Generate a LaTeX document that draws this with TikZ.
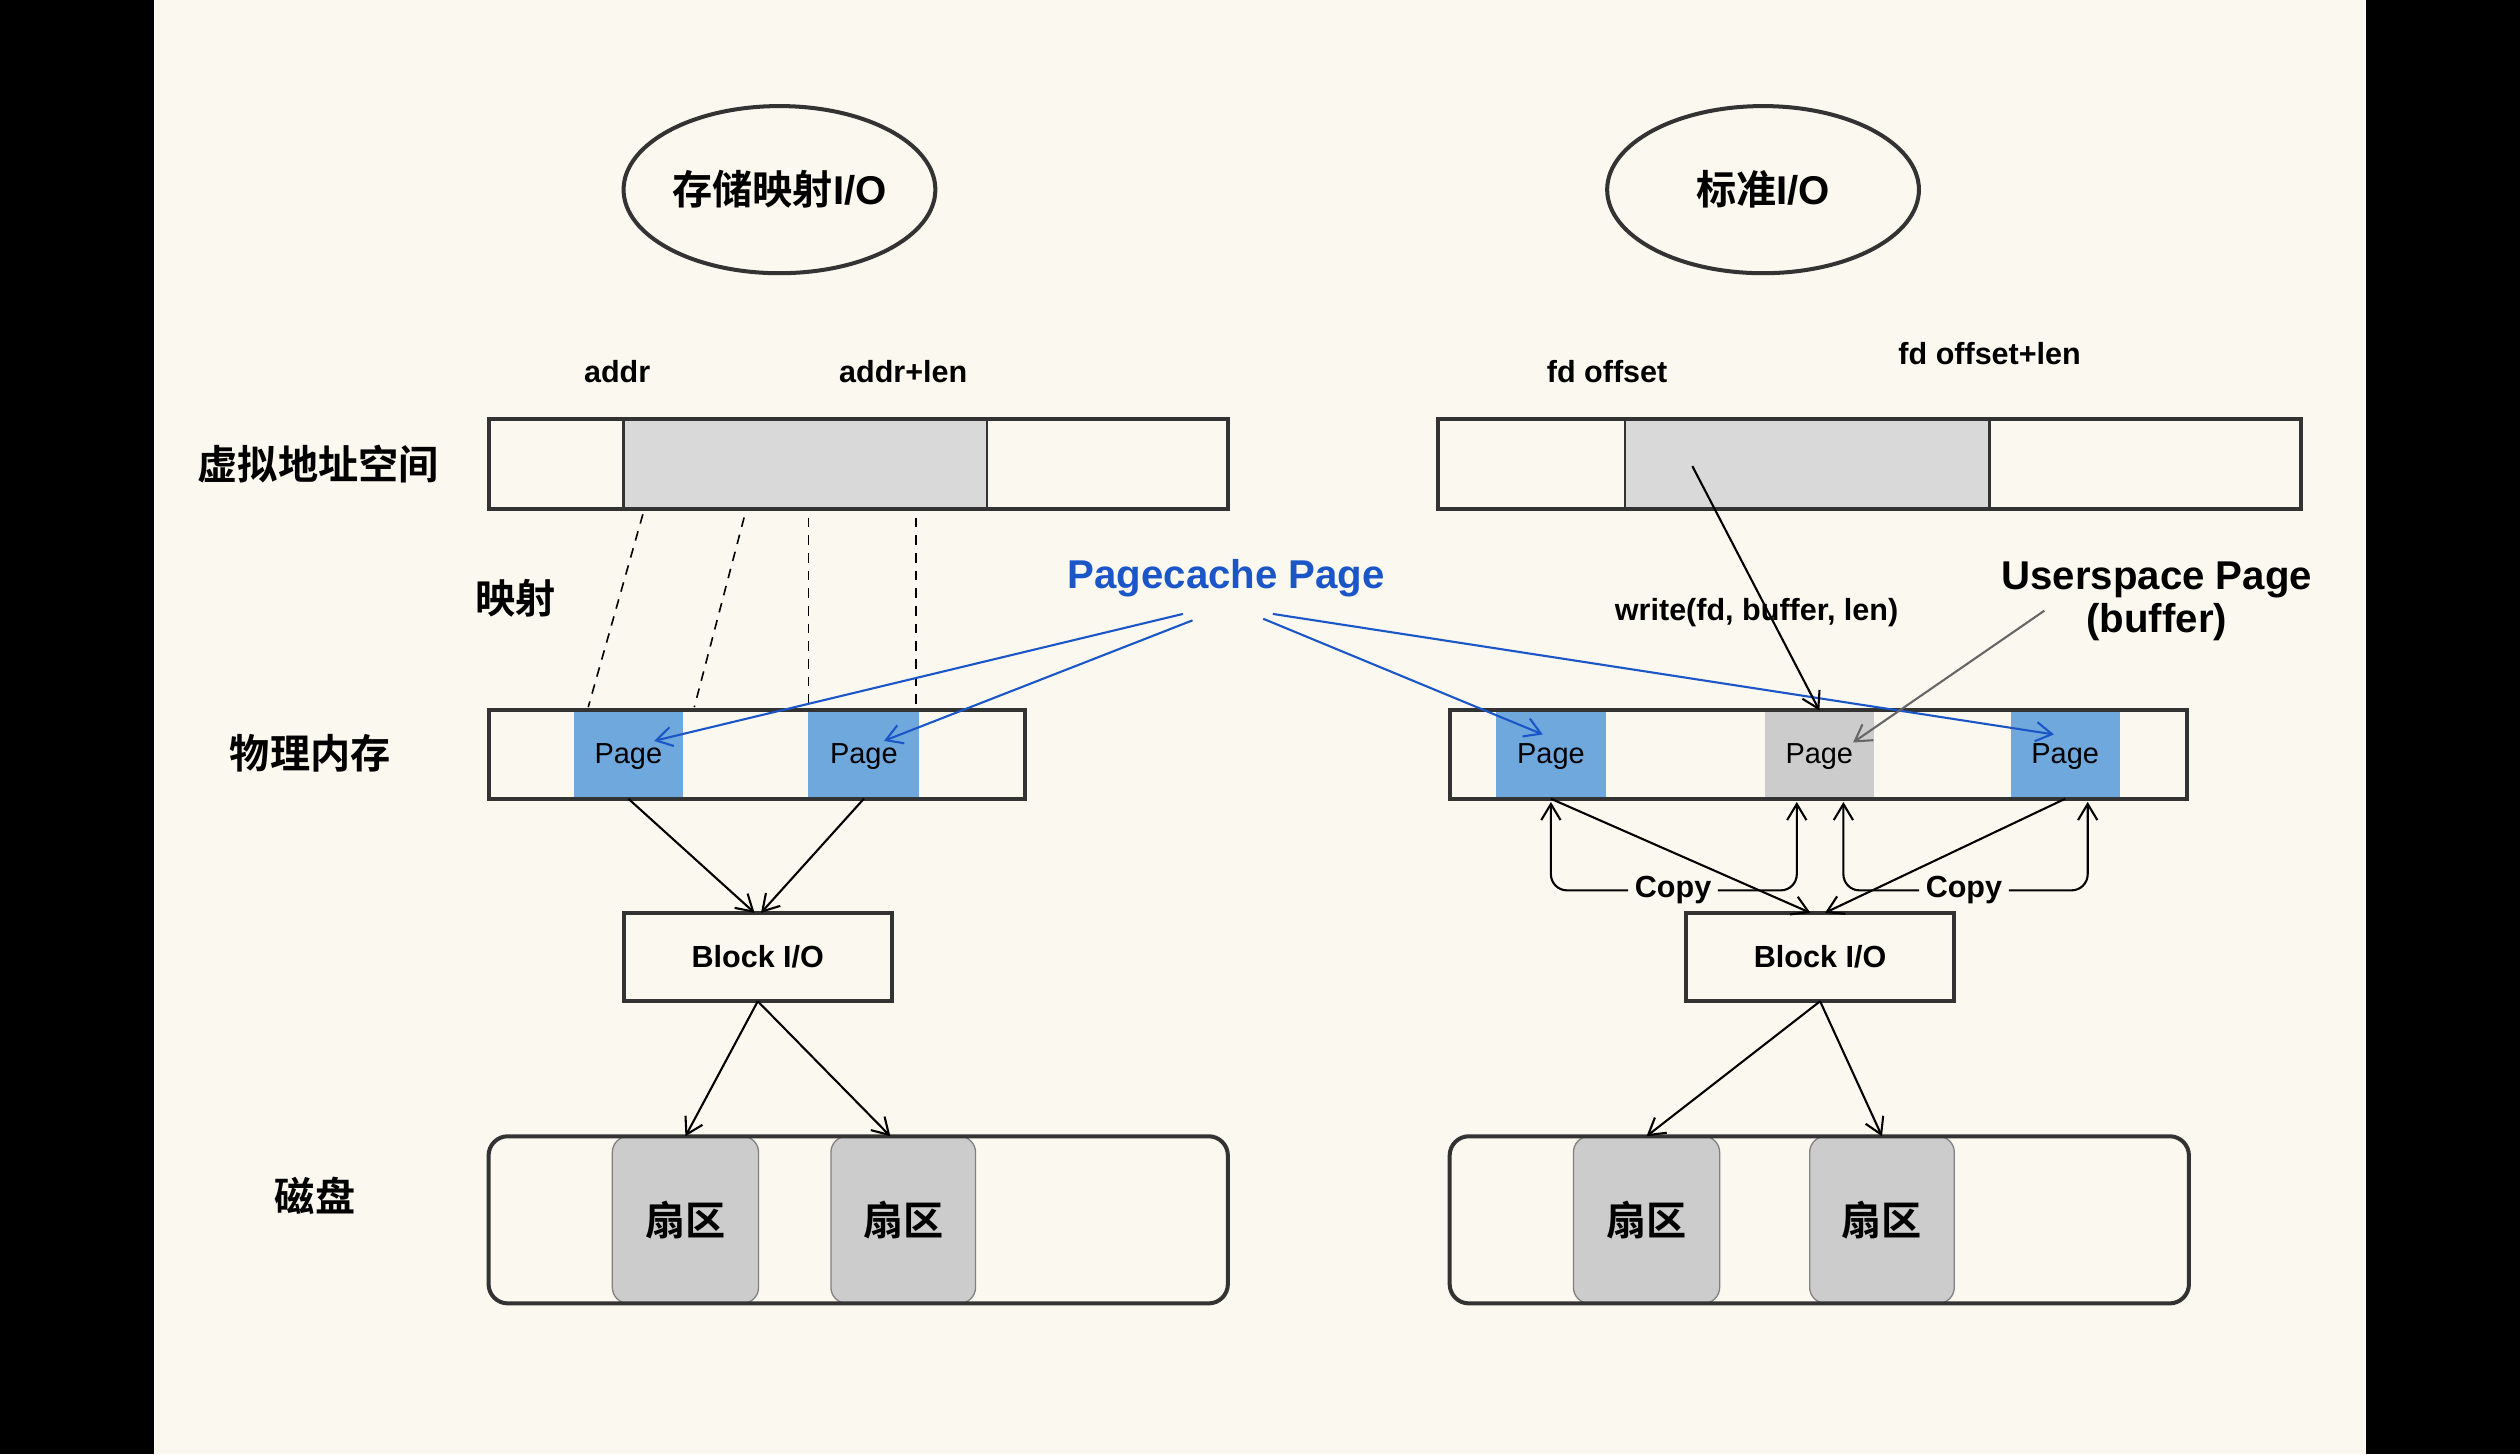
\documentclass[tikz,border=0pt]{standalone}
\usepackage{fontspec}
\usepackage{tikz}
\usetikzlibrary{arrows.meta,shapes.geometric}
\setmainfont{Liberation Sans}
\newfontfamily\cjk{Noto Sans CJK SC}[BoldFont={Noto Sans CJK SC Bold}]
\definecolor{bgcream}{HTML}{FAF8EF}
\definecolor{edgegray}{HTML}{333333}
\definecolor{pageblue}{HTML}{6FA8DC}
\definecolor{pagegray}{HTML}{CCCCCC}
\definecolor{spangray}{HTML}{D9D9D9}
\definecolor{linkblue}{HTML}{1A56C8}
\newcommand{\bigfont}{\fontsize{25}{30}\selectfont\bfseries}
\newcommand{\smallfont}{\fontsize{19}{23}\selectfont\bfseries}

\begin{document}
\begin{tikzpicture}[x=1pt,y=-1pt,
    >={Straight Barb[length=10pt,width=12pt]},
    box/.style={rectangle,inner sep=0pt,outer sep=0pt},
    frame/.style={draw=edgegray,line width=2.5pt},
    page/.style={box,minimum width=68pt,minimum height=55pt,
      font=\fontsize{18}{22}\selectfont},
    sector/.style={box,fill=pagegray,draw=gray,line width=0.8pt,
      rounded corners=10pt,minimum height=104pt,
      font=\cjk\bigfont},
    link/.style={->,line width=1.3pt},
    bluelink/.style={->,line width=1.3pt,draw=linkblue},
    label/.style={inner sep=2pt,font=\smallfont}]
        \useasboundingbox (0,0) rectangle (1568,905);
        \fill[black] (0,0) rectangle (1568,905);
        \fill[bgcream] (96,0) rectangle (1472,905);

        % titles
        \node[ellipse,frame,minimum width=194pt,minimum height=104pt,inner sep=0pt]
          (mmapT) at (485,118) {{\cjk\bigfont 存储映射}{\bigfont I/O}};
        \node[ellipse,frame,minimum width=194pt,minimum height=104pt,inner sep=0pt]
          (stdT) at (1097,118) {{\cjk\bigfont 标准}{\bigfont I/O}};

        % row labels
        \node[font=\cjk\bigfont] (rowV) at (198,289) {虚拟地址空间};
        \node[font=\cjk\bigfont] (rowM) at (321,372) {映射};
        \node[font=\cjk\bigfont] (rowP) at (193,469) {物理内存};
        \node[font=\cjk\bigfont] (rowD) at (196,744) {磁盘};

        \node[label] (addr) at (384,231) {addr};
        \node[label] (addrlen) at (562,231) {addr+len};
        \node[label] (fdoff) at (1000,231) {fd offset};
        \node[label] (fdofflen) at (1238,220) {fd offset+len};

        % virtual address space
        \node[box,fill=bgcream,minimum width=460pt,minimum height=56pt] (vL) at (534,289) {};
        \node[box,fill=spangray,draw=edgegray,line width=1.5pt,minimum width=226pt,minimum height=56pt] (vLg) at (501,289) {};
        \draw[frame] (vL.north west) rectangle (vL.south east);
        \node[box,fill=bgcream,minimum width=537pt,minimum height=56pt] (vR) at (1163.5,289) {};
        \node[box,fill=spangray,draw=edgegray,line width=1.5pt,minimum width=227pt,minimum height=56pt] (vRg) at (1124.5,289) {};
        \draw[frame] (vR.north west) rectangle (vR.south east);

        % physical memory
        \node[box,fill=bgcream,minimum width=334pt,minimum height=55pt] (mL) at (471,469.5) {};
        \node[page,fill=pageblue,text depth=1pt] (pL1) at (391,469.5) {Page};
        \node[page,fill=pageblue,minimum width=69pt,text depth=1pt] (pL2) at (537.5,469.5) {Page};
        \draw[frame] (mL.north west) rectangle (mL.south east);
        \node[box,fill=bgcream,minimum width=459pt,minimum height=55pt] (mR) at (1131.5,469.5) {};
        \node[page,fill=pageblue,text depth=1pt] (pR1) at (965,469.5) {Page};
        \node[page,fill=pagegray,text depth=1pt] (pR2) at (1132,469.5) {Page};
        \node[page,fill=pageblue,text depth=1pt] (pR3) at (1285,469.5) {Page};
        \draw[frame] (mR.north west) rectangle (mR.south east);

        % block layer
        \node[box,frame,fill=bgcream,minimum width=167pt,minimum height=55pt,font=\smallfont]
          (bL) at (471.5,595.5) {Block I/O};
        \node[box,frame,fill=bgcream,minimum width=167pt,minimum height=55pt,font=\smallfont]
          (bR) at (1132.5,595.5) {Block I/O};

        % disks
        \node[box,fill=bgcream,rounded corners=12pt,minimum width=460pt,minimum height=104pt] (dL) at (534,759) {};
        \node[sector,minimum width=91pt] (sL1) at (426.5,759) {扇区};
        \node[sector,minimum width=90pt] (sL2) at (562,759) {扇区};
        \draw[frame,rounded corners=12pt] (dL.north west) rectangle (dL.south east);
        \node[box,fill=bgcream,rounded corners=12pt,minimum width=460pt,minimum height=104pt] (dR) at (1132,759) {};
        \node[sector,minimum width=91pt] (sR1) at (1024.5,759) {扇区};
        \node[sector,minimum width=90pt] (sR2) at (1171,759) {扇区};
        \draw[frame,rounded corners=12pt] (dR.north west) rectangle (dR.south east);

        % mapping
        \draw[dashed,line width=1pt,dash pattern=on 6pt off 5pt]
          ([xshift=96pt,yshift=-3pt]vL.south west) -- ([xshift=62pt,yshift=2pt]mL.north west);
        \draw[dashed,line width=1pt,dash pattern=on 6pt off 5pt]
          ([xshift=159pt,yshift=-5pt]vL.south west) -- ([xshift=128pt,yshift=2pt]mL.north west);
        \draw[dashed,line width=1pt,dash pattern=on 6pt off 5pt]
          ([xshift=199pt,yshift=-5pt]vL.south west) -- ([xshift=199pt,yshift=2pt]mL.north west);
        \draw[dashed,line width=1pt,dash pattern=on 6pt off 5pt]
          ([xshift=266pt,yshift=-5pt]vL.south west) -- ([xshift=266pt,yshift=2pt]mL.north west);

        % labels with pointers
        \node[font=\bigfont,text=linkblue] (pcache) at (763,360) {Pagecache Page};
        \node[label] (write) at (1093,381) {write(fd, buffer, len)};
        \node[font=\bigfont,align=center,inner sep=0pt] (uspace) at (1342,374)
          {Userspace Page\\[-3pt](buffer)};

        \draw[bluelink] ([xshift=-27pt,yshift=-22pt]pcache.center) -- ([xshift=16pt,yshift=8.5pt]pL1.center);
        \draw[bluelink] ([xshift=-21pt,yshift=-26pt]pcache.center) -- ([xshift=12.5pt,yshift=8.5pt]pL2.center);
        \draw[bluelink] ([xshift=23pt,yshift=-25pt]pcache.center) -- ([xshift=-5pt,yshift=12.5pt]pR1.center);
        \draw[bluelink] ([xshift=29pt,yshift=-22pt]pcache.center) -- ([xshift=-7pt,yshift=12.5pt]pR3.center);

        \draw[link] ([xshift=158pt,yshift=-29pt]vR.north west) -- (pR2.north);
        \draw[link,draw=gray!80!black] ([xshift=-70pt,yshift=-6pt]uspace.center) -- ([xshift=21pt,yshift=7.5pt]pR2.center);

        % to block I/O
        \draw[link] (pL1.south) -- ([xshift=-2pt]bL.north);
        \draw[link] (pL2.south) -- ([xshift=2pt]bL.north);
        \draw[link] (pR1.south) -- ([xshift=-6pt]bR.north);
        \draw[link] (pR3.south) -- ([xshift=3pt]bR.north);

        % copies
        \node[label,inner sep=4pt] (copyA) at (1041,554) {Copy};
        \node[label,inner sep=4pt] (copyB) at (1222,554) {Copy};
        \draw[link,rounded corners=10pt] (copyA.west) -| ([yshift=-2pt]pR1.south);
        \draw[link,rounded corners=10pt] (copyA.east) -| ([xshift=-14pt,yshift=-2pt]pR2.south);
        \draw[link,rounded corners=10pt] (copyB.west) -| ([xshift=15pt,yshift=-2pt]pR2.south);
        \draw[link,rounded corners=10pt] (copyB.east) -| ([xshift=14pt,yshift=-2pt]pR3.south);

        % to disk
        \draw[link] (bL.south) -- (sL1.north);
        \draw[link] (bL.south) -- ([xshift=-8pt]sL2.north);
        \draw[link] (bR.south) -- (sR1.north);
        \draw[link] (bR.south) -- (sR2.north);
\end{tikzpicture}
\end{document}
